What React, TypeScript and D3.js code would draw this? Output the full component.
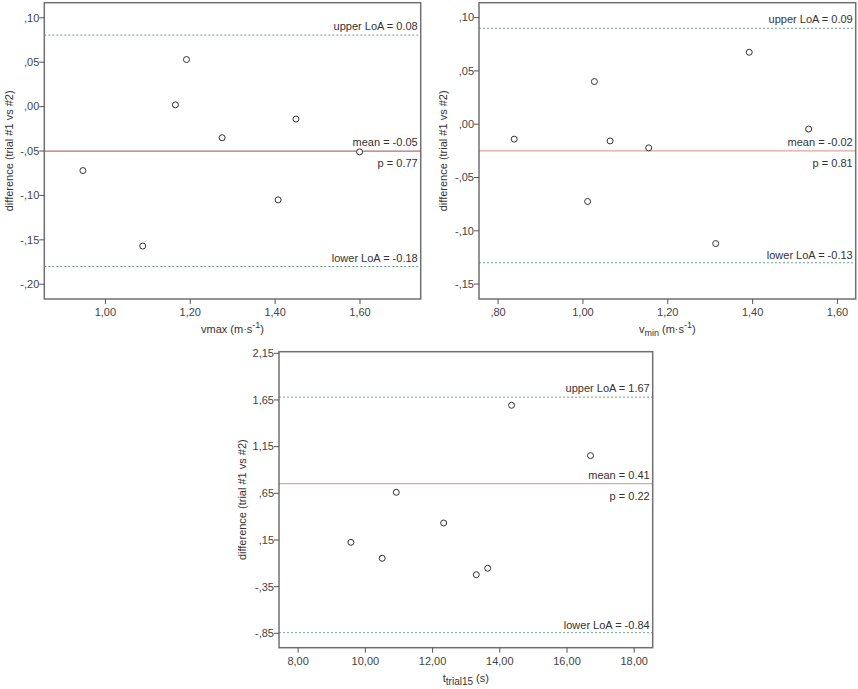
import React from 'react';
import * as d3 from 'd3';

// vmax panel
const vmaxX = [0.947, 1.088, 1.165, 1.191, 1.275, 1.407, 1.449, 1.599];
const vmaxDiff = [-0.072, -0.157, 0.002, 0.053, -0.035, -0.105, -0.014, -0.051];
const vmaxXTicks = [1.0, 1.2, 1.4, 1.6];
const vmaxYTicks = [0.1, 0.05, 0, -0.05, -0.1, -0.15, -0.2];
const vmaxXDomain = [0.856, 1.743];
const vmaxYDomain = [-0.2166, 0.117];
const vmaxLoA = [0.0805, -0.05, -0.18]; // upper, mean, lower
const vmaxText = ['upper LoA = 0.08', 'mean = -0.05', 'p = 0.77', 'lower LoA = -0.18'];

// vmin panel
const vminX = [0.838, 1.011, 1.027, 1.064, 1.155, 1.313, 1.392, 1.532];
const vminDiff = [-0.014, -0.0725, 0.04, -0.0157, -0.0222, -0.112, 0.0675, -0.0045];
const vminXTicks = [0.8, 1.0, 1.2, 1.4, 1.6];
const vminYTicks = [0.1, 0.05, 0, -0.05, -0.1, -0.15];
const vminXDomain = [0.755, 1.643];
const vminYDomain = [-0.164, 0.114];
const vminLoA = [0.09, -0.025, -0.13];
const vminText = ['upper LoA = 0.09', 'mean = -0.02', 'p = 0.81', 'lower LoA = -0.13'];

// t trial15 panel
const tX = [9.57, 10.5, 10.92, 12.33, 13.3, 13.64, 14.35, 16.7];
const tDiff = [0.125, -0.046, 0.661, 0.332, -0.222, -0.153, 1.593, 1.054];
const tXTicks = [8, 10, 12, 14, 16, 18];
const tYTicks = [2.15, 1.65, 1.15, 0.65, 0.15, -0.35, -0.85];
const tXDomain = [7.43, 18.55];
const tYDomain = [-1.004, 2.167];
const tLoA = [1.68, 0.753, -0.843];
const tText = ['upper LoA = 1.67', 'mean = 0.41', 'p = 0.22', 'lower LoA = -0.84'];

const yTitle = 'difference (trial #1 vs #2)';

const fmtTick = (v: number) => {
  let s = d3.format('.2f')(Math.abs(v));
  if (Math.abs(v) < 1) s = s.slice(1);
  s = s.replace('.', ',');
  return (v < -1e-9 ? '-' : '') + s;
};

const FONT = 'Arial, "Liberation Sans", sans-serif';

interface PanelProps {
  box: { left: number; right: number; top: number; bottom: number };
  xs: number[];
  ys: number[];
  xDomain: number[];
  yDomain: number[];
  xTicks: number[];
  yTicks: number[];
  loa: number[];
  texts: string[];
  meanColor: string;
  yTitleX: number;
  xTitle: React.ReactNode;
}

const Panel: React.FC<PanelProps> = ({ box, xs, ys, xDomain, yDomain, xTicks, yTicks, loa, texts, meanColor, yTitleX, xTitle }) => {
  const x = d3.scaleLinear().domain(xDomain).range([box.left, box.right]);
  const y = d3.scaleLinear().domain(yDomain).range([box.bottom, box.top]);
  const midY = (box.top + box.bottom) / 2;
  const tx = box.right - 3;
  return (
    <g fontFamily={FONT} fontSize={11}>
      {/* reference lines */}
      <line x1={box.left} x2={box.right} y1={y(loa[0])} y2={y(loa[0])} stroke="#6aa58e" strokeWidth={1} strokeDasharray="2,2" />
      <line x1={box.left} x2={box.right} y1={y(loa[1])} y2={y(loa[1])} stroke={meanColor} strokeWidth={1.3} />
      <line x1={box.left} x2={box.right} y1={y(loa[2])} y2={y(loa[2])} stroke="#6aa58e" strokeWidth={1} strokeDasharray="2,2" />
      <g fill="#333" textAnchor="end">
        <text x={tx} y={y(loa[0]) - 5}>{texts[0]}</text>
        <text x={tx} y={y(loa[1]) - 5}>{texts[1]}</text>
        <text x={tx} y={y(loa[1]) + 16}>{texts[2]}</text>
        <text x={tx} y={y(loa[2]) - 4}>{texts[3]}</text>
      </g>
      {xs.map((v, i) => (
        <circle key={i} cx={x(v)} cy={y(ys[i])} r={3} fill="white" stroke="#333" strokeWidth={1} />
      ))}
      <rect x={box.left} y={box.top} width={box.right - box.left} height={box.bottom - box.top} fill="none" stroke="#707070" strokeWidth={1.5} />
      {yTicks.map(t => (
        <g key={'y' + t}>
          <line x1={box.left - 5} x2={box.left} y1={y(t)} y2={y(t)} stroke="#555" />
          <text x={box.left - 5} y={y(t)} dy="0.35em" textAnchor="end" fill="#444">{fmtTick(t)}</text>
        </g>
      ))}
      {xTicks.map(t => (
        <g key={'x' + t}>
          <line x1={x(t)} x2={x(t)} y1={box.bottom} y2={box.bottom + 5} stroke="#555" />
          <text x={x(t)} y={box.bottom + 17} textAnchor="middle" fill="#444">{fmtTick(t)}</text>
        </g>
      ))}
      <text transform={`translate(${yTitleX},${midY}) rotate(-90)`} textAnchor="middle" fill="#333">{yTitle}</text>
      <text x={(box.left + box.right) / 2} y={box.bottom + 34} textAnchor="middle" fill="#333">{xTitle}</text>
    </g>
  );
};

const App: React.FC = () => (
  <svg width={858} height={689} style={{ position: 'absolute', left: 0, top: 0, background: 'white' }}>
    <rect width={858} height={689} fill="white" />
    <Panel
      box={{ left: 44.3, right: 420.7, top: 2.7, bottom: 299 }}
      xs={vmaxX} ys={vmaxDiff} xDomain={vmaxXDomain} yDomain={vmaxYDomain}
      xTicks={vmaxXTicks} yTicks={vmaxYTicks} loa={vmaxLoA} texts={vmaxText}
      meanColor="#b0736b" yTitleX={13}
      xTitle={<>vmax (m·s<tspan dy="-5" fontSize={9}>-1</tspan><tspan dy="5">)</tspan></>}
    />
    <Panel
      box={{ left: 479, right: 855.7, top: 2.7, bottom: 299 }}
      xs={vminX} ys={vminDiff} xDomain={vminXDomain} yDomain={vminYDomain}
      xTicks={vminXTicks} yTicks={vminYTicks} loa={vminLoA} texts={vminText}
      meanColor="#e3a39c" yTitleX={447}
      xTitle={<>v<tspan dy="3" fontSize={9}>min</tspan><tspan dy="-3"> (m·s</tspan><tspan dy="-5" fontSize={9}>-1</tspan><tspan dy="5">)</tspan></>}
    />
    <Panel
      box={{ left: 279, right: 652.7, top: 351.7, bottom: 647.7 }}
      xs={tX} ys={tDiff} xDomain={tXDomain} yDomain={tYDomain}
      xTicks={tXTicks} yTicks={tYTicks} loa={tLoA} texts={tText}
      meanColor="#e3a39c" yTitleX={246}
      xTitle={<>t<tspan dy="3" fontSize={10}>trial15</tspan><tspan dy="-3"> (s)</tspan></>}
    />
  </svg>
);

export default App;
